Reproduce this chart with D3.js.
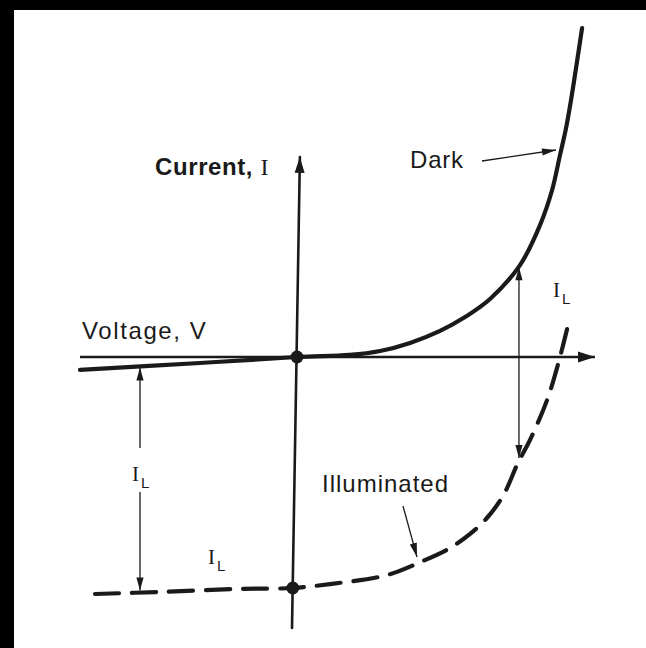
<!DOCTYPE html>
<html>
<head>
<meta charset="utf-8">
<script src="https://cdn.jsdelivr.net/npm/d3@7"></script>
<style>
  html, body { margin: 0; padding: 0; background: #fff; }
  svg { display: block; }
</style>
</head>
<body>
<svg id="iv-svg" width="646" height="648"></svg>
<script>
// dark I-V curve (V, I), arbitrary units: I_L = 1
const DARK_V = [-0.825, -0.369, 0, 0.2, 0.316, 0.43, 0.544, 0.639, 0.734, 0.848, 0.924, 0.97, 1.0, 1.023, 1.042, 1.061, 1.084];
const DARK_I = [-0.056, -0.026, 0, 0.009, 0.026, 0.061, 0.113, 0.173, 0.251, 0.398, 0.571, 0.723, 0.874, 0.991, 1.113, 1.251, 1.424];

// illuminated curve, shifted down by I_L
const LIGHT_V = [-0.768, -0.521, -0.217, -0.016, 0.125, 0.342, 0.479, 0.582, 0.658, 0.722, 0.783, 0.84, 0.886, 0.951, 1.0, 1.038];
const LIGHT_I = [-1.026, -1.017, -1.004, -1.0, -0.983, -0.944, -0.883, -0.827, -0.766, -0.697, -0.602, -0.459, -0.359, -0.186, 0, 0.173];

// axis extents
const V_AXIS = [-0.825, 1.133];
const I_AXIS_TOP = [0.011, 0.866];
const I_AXIS_BOTTOM = [-0.019, -1.173];

// where the I_L gap is marked
const IL_V = [-0.597, 0.844];

(function drawIV() {
  const svg = d3.select('#iv-svg');
  const INK = '#1a1a1a';
  const SANS = '"Liberation Sans", Arial, Helvetica, sans-serif';
  const SERIF = '"Liberation Serif", "Times New Roman", serif';

  const x = d3.scaleLinear().domain([0, 1]).range([297, 560]);
  const y = d3.scaleLinear().domain([0, 1]).range([357, 126]);

  // scanned page edge
  svg.append('rect').attr('width', 646).attr('height', 648).attr('fill', '#fff');
  svg.append('rect').attr('width', 14).attr('height', 648).attr('fill', '#000');
  svg.append('rect').attr('width', 646).attr('height', 10).attr('fill', '#000');

  const darkAt = d3.scaleLinear().domain(DARK_V).range(DARK_I);
  const lightAt = d3.scaleLinear().domain(LIGHT_V).range(LIGHT_I);

  function arrowHead(g, tip, from, len, half) {
    const dx = tip[0] - from[0], dy = tip[1] - from[1];
    const d = Math.hypot(dx, dy);
    const ux = dx / d, uy = dy / d;
    const bx = tip[0] - ux * len, by = tip[1] - uy * len;
    g.append('path')
      .attr('d', `M${tip[0]},${tip[1]}L${bx - uy * half},${by + ux * half}L${bx + uy * half},${by - ux * half}Z`)
      .attr('fill', INK);
  }

  function arrow(g, from, tip, width, len, half) {
    g.append('line')
      .attr('x1', from[0]).attr('y1', from[1])
      .attr('x2', tip[0]).attr('y2', tip[1])
      .attr('stroke', INK).attr('stroke-width', width);
    arrowHead(g, tip, from, len, half);
  }

  const axes = svg.append('g');
  // voltage axis
  arrow(axes, [x(V_AXIS[0]), y(0)], [x(V_AXIS[1]), y(0)], 2.6, 17, 5.5);
  // current axis
  const yTop = [x(I_AXIS_TOP[0]), y(I_AXIS_TOP[1])];
  const yBot = [x(I_AXIS_BOTTOM[0]), y(I_AXIS_BOTTOM[1])];
  axes.append('line')
    .attr('x1', yBot[0]).attr('y1', yBot[1]).attr('x2', yTop[0]).attr('y2', yTop[1])
    .attr('stroke', INK).attr('stroke-width', 2.6).attr('stroke-linecap', 'round');
  arrowHead(axes, yTop, yBot, 16, 5);

  const line = d3.line()
    .x(d => x(d[0]))
    .y(d => y(d[1]))
    .curve(d3.curveCatmullRom.alpha(0.5));

  svg.append('path')
    .datum(d3.zip(DARK_V, DARK_I))
    .attr('d', line)
    .attr('fill', 'none')
    .attr('stroke', INK)
    .attr('stroke-width', 4.2)
    .attr('stroke-linecap', 'round');

  svg.append('path')
    .datum(d3.zip(LIGHT_V, LIGHT_I))
    .attr('d', line)
    .attr('fill', 'none')
    .attr('stroke', INK)
    .attr('stroke-width', 4.2)
    .attr('stroke-linecap', 'round')
    .attr('stroke-dasharray', '24 13');

  // dots where the curves cross the current axis
  svg.append('circle').attr('cx', x(0)).attr('cy', y(0)).attr('r', 6.5).attr('fill', INK);
  svg.append('circle').attr('cx', x(-0.016)).attr('cy', y(-1)).attr('r', 6.5).attr('fill', INK);

  // I_L arrows
  const notes = svg.append('g');
  const leftX = x(IL_V[0]);
  const leftTop = [leftX, y(darkAt(IL_V[0])) + 1];
  const leftBot = [leftX, y(lightAt(IL_V[0])) - 2];
  arrow(notes, [leftX, 448], leftTop, 1.3, 13, 3.6);
  arrow(notes, [leftX, 492], leftBot, 1.3, 13, 3.6);

  const rightX = x(IL_V[1]);
  const rightTop = [rightX, y(darkAt(IL_V[1])) + 1];
  const rightBot = [rightX, y(lightAt(IL_V[1])) - 3];
  arrow(notes, rightBot, rightTop, 1.3, 13, 3.6);
  arrowHead(notes, rightBot, rightTop, 13, 3.6);

  // pointer arrows
  arrow(notes, [482, 161], [556, 150], 1.3, 14, 3.6);
  arrow(notes, [403, 506], [417, 557], 1.3, 14, 3.6);

  function subLabel(px, py) {
    const t = notes.append('text').attr('x', px).attr('y', py).attr('fill', INK);
    t.append('tspan').attr('font-family', SERIF).attr('font-size', 21).text('I');
    t.append('tspan').attr('font-family', SANS).attr('font-size', 15).attr('dx', 2).attr('dy', 7).text('L');
  }
  subLabel(leftX - 8, 481);
  subLabel(208, 564);
  subLabel(rightX + 34, 297);

  const labels = svg.append('g').attr('fill', INK).attr('font-family', SANS).attr('font-size', 24);
  const cur = labels.append('text').attr('x', 155).attr('y', 175).attr('letter-spacing', 0.6);
  cur.append('tspan').attr('font-weight', 700).text('Current, ');
  cur.append('tspan').attr('font-family', SERIF).text('I');
  labels.append('text').attr('x', 82).attr('y', 339).attr('letter-spacing', 1.6).text('Voltage, V');
  labels.append('text').attr('x', 410).attr('y', 168).attr('letter-spacing', 0.8).text('Dark');
  labels.append('text').attr('x', 322).attr('y', 492).attr('letter-spacing', 1).text('Illuminated');
})();
</script>
</body>
</html>
